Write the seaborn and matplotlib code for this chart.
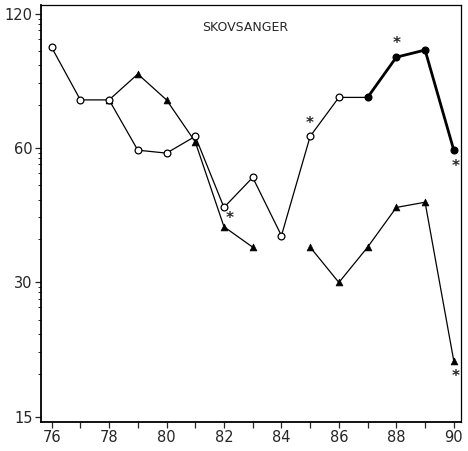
import numpy as np
import pandas as pd
import matplotlib
matplotlib.use("Agg")
import matplotlib.pyplot as plt
import seaborn as sns
from matplotlib.ticker import FixedLocator, NullFormatter

sns.set_style("ticks")
plt.rcParams['font.family'] = ['DejaVu Sans']

title = "SKOVSANGER"
circ_years = [76, 77, 78, 79, 80, 81, 82, 83, 84, 85, 86, 87, 88, 89, 90]
circ_vals = [101, 77, 77, 59.4, 58.5, 63.8, 44.2, 51.6, 38.2, 63.8, 78, 78, 96, 99.6, 59.4]
circ_filled = [0, 0, 0, 0, 0, 0, 0, 0, 0, 0, 0, 1, 1, 1, 1]
tri_years = [78, 79, 80, 81, 82, 83, 85, 86, 87, 88, 89, 90]
tri_vals = [77, 88, 77, 62, 40, 36, 36, 30, 36, 44.2, 45.4, 20]
tri_segment = [0, 0, 0, 0, 0, 0, 1, 1, 1, 1, 1, 1]
star_years = [82, 85, 88, 90, 90]
star_vals = [44.2, 63.8, 96, 59.4, 20]
star_offsets = [(4, -8), (0, 9), (0, 10), (1, -12), (1, -11)]
y_major = [15, 30, 60, 120]
x_major = [76, 78, 80, 82, 84, 86, 88, 90]

circ = pd.DataFrame({"year": circ_years, "value": circ_vals, "filled": circ_filled})
tri = pd.DataFrame({"year": tri_years, "value": tri_vals, "seg": tri_segment})

fig = plt.figure(figsize=(4.68, 4.51), dpi=100)
ax = fig.add_axes([0.0876, 0.0643, 0.8974, 0.9247])
ax.set_yscale("log")

thin = circ[circ["year"] <= 87]
thick = circ[circ["year"] >= 87]
sns.lineplot(data=thin, x="year", y="value", ax=ax, color="black", lw=0.9,
             estimator=None, sort=False, zorder=2)
sns.lineplot(data=thick, x="year", y="value", ax=ax, color="black", lw=2.0,
             estimator=None, sort=False, zorder=2)

for s, g in tri.groupby("seg"):
    sns.lineplot(data=g, x="year", y="value", ax=ax, color="black", lw=0.9,
                 estimator=None, sort=False, zorder=2)
sns.scatterplot(data=tri, x="year", y="value", ax=ax, marker="^", s=24,
                color="black", edgecolor="black", linewidth=0.5, zorder=3)

open_c = circ[circ["filled"] == 0]
fill_c = circ[circ["filled"] == 1]
sns.scatterplot(data=open_c, x="year", y="value", ax=ax, marker="o", s=24,
                facecolor="white", edgecolor="black", linewidth=0.9, zorder=4)
sns.scatterplot(data=fill_c, x="year", y="value", ax=ax, marker="o", s=24,
                color="black", edgecolor="black", linewidth=0.9, zorder=4)

for xv, yv, off in zip(star_years, star_vals, star_offsets):
    ax.annotate("*", (xv, yv), xytext=off, textcoords="offset points",
                ha="center", va="center", fontsize=11, fontweight="bold")

ax.text(0.486, 0.945, title, transform=ax.transAxes, ha="center", va="center",
        fontsize=9)

ax.set_xlim(75.63, 90.25)
ax.set_ylim(14.6, 125.7)
ax.set_xticks(x_major)
ax.set_xticklabels([str(v) for v in x_major])
ax.xaxis.set_minor_locator(FixedLocator(list(range(76, 91))))
ax.set_yticks(y_major)
ax.set_yticklabels([str(v) for v in y_major])
ratios = [0.975, 0.95, 0.92, 0.88, 0.825, 0.767, 0.70, 0.625]
minor = [top * r for top in [120, 60, 30] for r in ratios]
ax.yaxis.set_minor_locator(FixedLocator(minor))
ax.yaxis.set_minor_formatter(NullFormatter())
ax.tick_params(axis="both", which="major", labelsize=10.5, length=4, width=0.9,
               direction="out", pad=2)
ax.tick_params(axis="both", which="minor", length=2.5, width=0.7, direction="out")
ax.tick_params(axis="x", which="minor", length=4, width=0.9)
ax.set_xlabel("")
ax.set_ylabel("")
for sp in ax.spines.values():
    sp.set_visible(True)
    sp.set_color("black")
    sp.set_linewidth(0.9)
ax.spines["left"].set_linewidth(1.3)
ax.spines["bottom"].set_linewidth(1.3)

fig.savefig("out.png", dpi=100)
